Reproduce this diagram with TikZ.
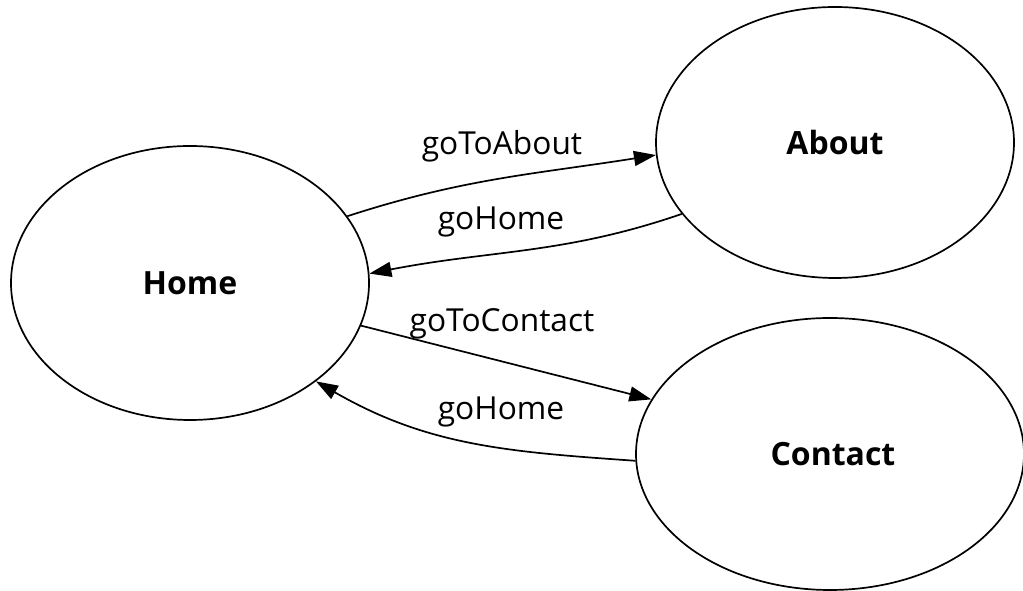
\documentclass[tikz,border=0pt]{standalone}
\usepackage{fontspec}
\setmainfont{Open Sans}
\usetikzlibrary{shapes.geometric,arrows.meta}

\begin{document}
\begin{tikzpicture}[x=1pt,y=1pt]
      \tikzset{
        state/.style={ellipse,draw,line width=1.7pt,inner sep=0pt,font=\fontsize{32}{38}\selectfont\bfseries},
        trans/.style={line width=1.7pt,-{Triangle[length=22pt,width=15pt]}},
        lbl/.style={anchor=base,inner sep=0pt,font=\fontsize{31.7}{38}\selectfont}
      }
      \useasboundingbox (0,0) rectangle (1023,591);

      \node[state,minimum width=358pt,minimum height=274pt] (home) at (190,308) {Home};
      \node[state,minimum width=358pt,minimum height=271pt] (about) at (835,448.5) {About};
      \node[state,minimum width=388pt,minimum height=272pt] (contact) at (830,137) {\hspace{6pt}Contact};

      \node[lbl] (l1) at (502,436) {goToAbout};
      \node[lbl] (l2) at (501,361) {goHome};
      \node[lbl] (l3) at (502,259) {goToContact};
      \node[lbl] (l4) at (501,171) {goHome};

      \draw (home.23) edge[trans,out=18,in=189] (about.184)
            (about.205) edge[trans,out=199,in=11] (home.3)
            (home.-14) edge[trans] (contact.163)
            (contact.182) edge[trans,out=176,in=-30] (home.-38);
    \end{tikzpicture}
\end{document}
